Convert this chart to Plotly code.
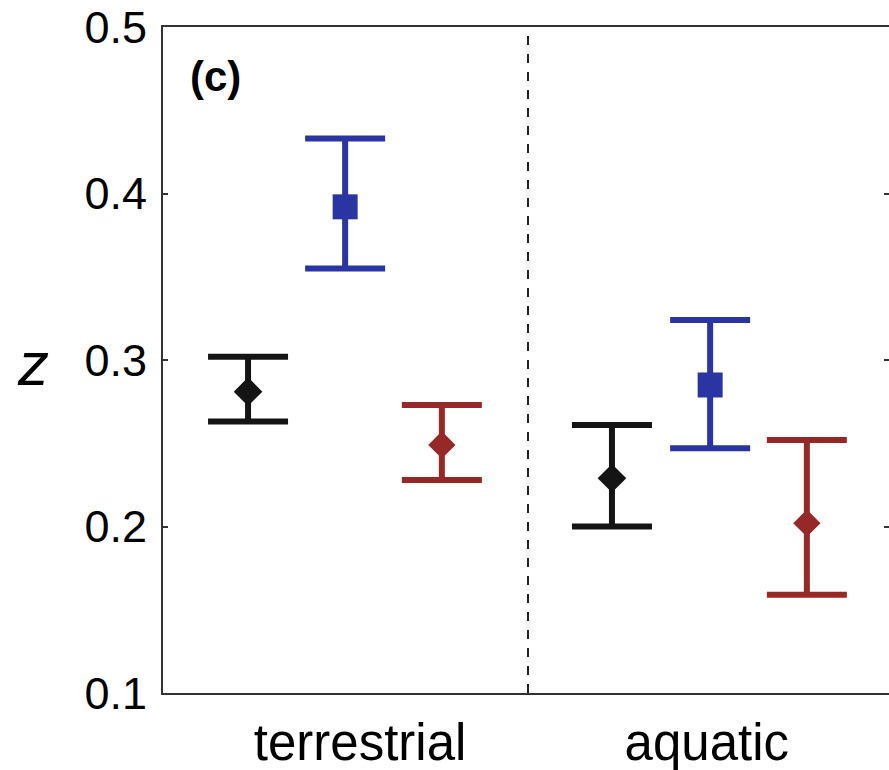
import plotly.graph_objects as go

# Data
groups = ["terrestrial", "aquatic"]
group_pos = [1.04, 1.99]
series_names = ["black", "blue", "red"]
x_black = [0.733, 1.730]
x_blue = [0.999, 1.999]
x_red = [1.264, 2.264]
z_black = [0.281, 0.229]
z_blue = [0.392, 0.285]
z_red = [0.249, 0.202]
up_black = [0.021, 0.032]
lo_black = [0.018, 0.029]
up_blue = [0.041, 0.039]
lo_blue = [0.037, 0.038]
up_red = [0.024, 0.050]
lo_red = [0.021, 0.043]
y_ticks = [0.1, 0.2, 0.3, 0.4, 0.5]
y_tick_text = ["0.1", "0.2", "0.3", "0.4", "0.5"]

colors = {"black": "#141414", "blue": "#2a34a2", "red": "#972828"}
symbols = {"black": "diamond", "blue": "square", "red": "diamond"}
sizes = {"black": 22, "blue": 25, "red": 21}
xs = {"black": x_black, "blue": x_blue, "red": x_red}
zs = {"black": z_black, "blue": z_blue, "red": z_red}
ups = {"black": up_black, "blue": up_blue, "red": up_red}
los = {"black": lo_black, "blue": lo_blue, "red": lo_red}

fig = go.Figure()
for s in series_names:
    fig.add_trace(go.Scatter(
        x=xs[s], y=zs[s], mode="markers",
        marker=dict(symbol=symbols[s], size=sizes[s], color=colors[s], line=dict(width=0)),
        error_y=dict(type="data", symmetric=False, array=ups[s], arrayminus=los[s],
                     color=colors[s], thickness=6, width=40),
        showlegend=False,
    ))

# invisible trace for right axis ticks
fig.add_trace(go.Scatter(x=[1.5], y=[0.3], yaxis="y2", mode="markers",
                         marker=dict(opacity=0), showlegend=False, hoverinfo="skip"))

fig.add_shape(type="line", xref="x", yref="paper", x0=1.5, x1=1.5, y0=0, y1=1,
              line=dict(color="#222222", width=2, dash="dash"))

fig.add_annotation(text="<b>(c)</b>", xref="paper", yref="paper", x=0.072, y=0.925,
                   xanchor="center", yanchor="middle", showarrow=False,
                   font=dict(family="Liberation Sans, Arial", size=42, color="black"))
fig.add_annotation(text="<i>z</i>", xref="paper", yref="paper", x=-0.179, y=0.494,
                   xanchor="center", yanchor="middle", showarrow=False,
                   font=dict(family="Liberation Sans, Arial", size=62, color="black"))

fig.update_layout(
    width=889, height=770,
    margin=dict(l=163, r=0, t=27, b=77),
    paper_bgcolor="white", plot_bgcolor="white",
    font=dict(family="Liberation Sans, Arial", color="black"),
    xaxis=dict(range=[0.5, 0.5 + 726 / 365], showgrid=False, zeroline=False,
               showline=True, linecolor="#333333", linewidth=2, mirror=True,
               tickvals=group_pos, ticktext=groups, ticks="", automargin=False,
               ticklabeloverflow="allow",
               tickfont=dict(size=51, color="black"), ticklabelstandoff=4),
    yaxis=dict(range=[0.1, 0.5], showgrid=False, zeroline=False, automargin=False,
               showline=True, linecolor="#333333", linewidth=2,
               tickvals=y_ticks, ticktext=y_tick_text, ticks="inside", ticklen=5,
               tickwidth=2, tickcolor="#333333", ticklabeloverflow="allow",
               tickfont=dict(size=45, color="black"), ticklabelstandoff=5),
    yaxis2=dict(range=[0.1, 0.5], overlaying="y", side="right", showgrid=False,
                zeroline=False, showline=False, tickvals=y_ticks, showticklabels=False,
                automargin=False,
                ticks="inside", ticklen=5, tickwidth=2, tickcolor="#333333"),
)

fig.write_html(
    "out.html",
    config={"displayModeBar": False},
    post_script="document.body.style.margin='0';document.body.style.overflow='hidden';",
)
